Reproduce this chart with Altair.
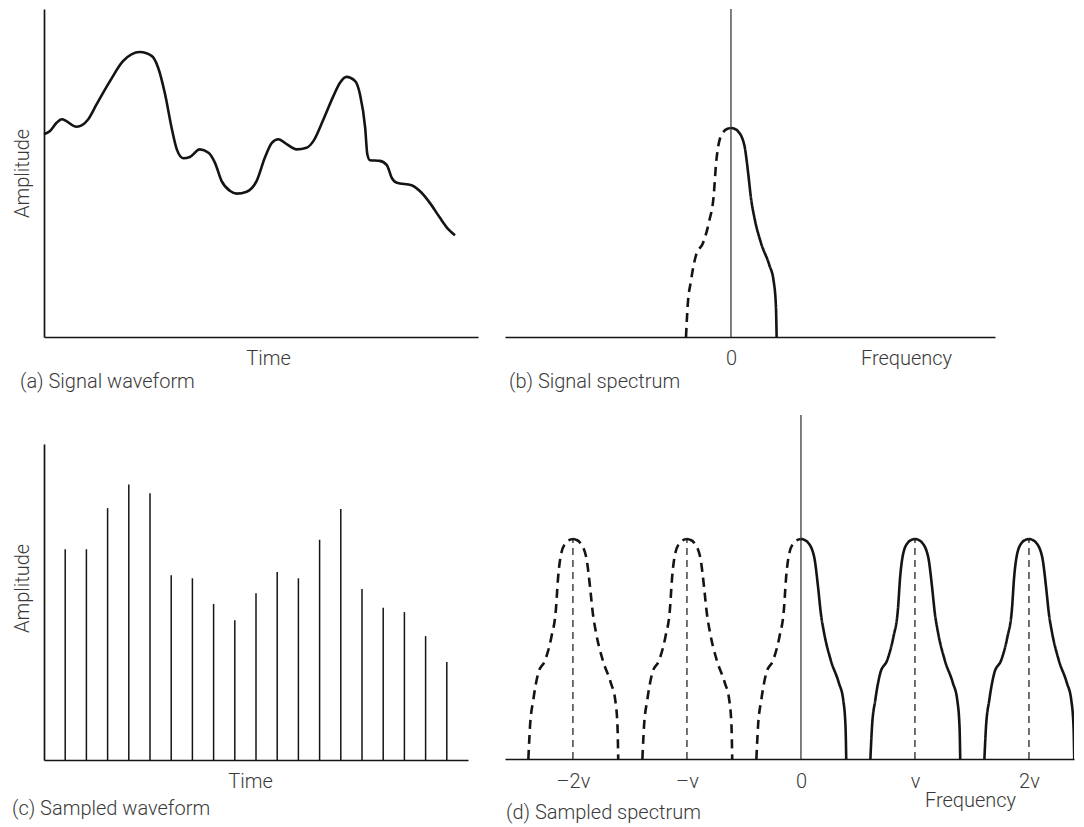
import altair as alt
import pandas as pd

FONT = "Roboto"
TEXT = "#3a3a3a"
INK = "#141414"

# (a) Signal waveform: time 0-100, amplitude 0-100
wave_t = [0, 1.4, 2.9, 4.1, 7.5, 10.2, 12.1, 15.2, 18.2, 22.1, 24.8, 26.3, 27.9, 29.4,
          30.6, 32.1, 33.6, 35.9, 37.9, 39.4, 40.9, 42.9, 44.4, 46.7, 49.0, 50.9, 52.5,
          54.0, 55.9, 58.2, 60.5, 62.1, 64.4, 66.7, 68.2, 69.7, 71.7, 72.8, 74.0, 74.5,
          75.1, 77.4, 79.0, 80.1, 81.3, 84.7, 86.6, 88.9, 91.2, 93.2, 94.7]
wave_a = [61.8, 62.8, 65.3, 66.4, 64.1, 66.4, 70.9, 78.0, 84.1, 86.9, 85.7, 82.1, 74.0, 63.8,
          57.2, 54.5, 54.9, 57.2, 56.2, 53.1, 47.6, 44.5, 43.7, 44.3, 47.6, 54.7, 59.2,
          60.3, 58.8, 57.2, 57.7, 59.8, 66.4, 73.5, 77.5, 79.3, 78.0, 74.0, 63.8, 55.7,
          53.9, 53.7, 52.4, 48.6, 47.0, 46.3, 44.5, 40.9, 36.4, 32.8, 31.0]

# (c) Sampled waveform
sample_t = [5, 10, 15, 20, 25, 30, 35, 40, 45, 50, 55, 60, 65, 70, 75, 80, 85, 90, 95]
sample_a = [66.7, 66.7, 79.7, 87.2, 84.4, 58.5, 57.5, 49.4, 44.2, 52.8, 59.5, 57.5,
            69.7, 79.4, 54.1, 48.2, 46.8, 39.2, 31.0]

# Spectrum lobe shape (offset in units of the sampling frequency nu, height relative to peak)
lobe_left_df = [-0.391, -0.377, -0.348, -0.304, -0.243, -0.189, -0.150, -0.130, -0.102, -0.058, -0.03, 0]
lobe_left_h = [0, 0.145, 0.268, 0.391, 0.45, 0.555, 0.677, 0.827, 0.936, 0.986, 0.996, 1]
lobe_right_df = [0, 0.03, 0.058, 0.116, 0.150, 0.174, 0.203, 0.261, 0.333, 0.371, 0.391, 0.397]
lobe_right_h = [1, 0.996, 0.986, 0.918, 0.782, 0.664, 0.573, 0.45, 0.345, 0.268, 0.145, 0]

# (b) one lobe at 0 ; (d) lobes at multiples of nu
b_centers = [0]
b_left_style = ["dashed"]
b_right_style = ["solid"]
d_centers = [-2, -1, 0, 1, 2]
d_left_style = ["dashed", "dashed", "dashed", "solid", "solid"]
d_right_style = ["dashed", "dashed", "solid", "solid", "solid"]
d_center_marks = [-2, -1, 1, 2]

d_tick_values = [-2, -1, 0, 1, 2]
d_tick_labels = ["\u20132\u03bd", "\u2013\u03bd", "0", "\u03bd", "2\u03bd"]
b_tick_values = [0]
b_tick_labels = ["0"]

B_TOP = 1.569
D_TOP = 1.5636


def lobes(centers, lstyle, rstyle):
    rows = []
    for i, c in enumerate(centers):
        for dfv, hv in zip(lobe_left_df, lobe_left_h):
            rows.append({"f": c + dfv, "h": hv, "seg": f"{i}L", "style": lstyle[i]})
        for dfv, hv in zip(lobe_right_df, lobe_right_h):
            rows.append({"f": c + dfv, "h": hv, "seg": f"{i}R", "style": rstyle[i]})
    return pd.DataFrame(rows)


def label_expr(values, labels):
    expr = "''"
    for v, l in zip(reversed(values), reversed(labels)):
        expr = f"datum.value == {v} ? '{l}' : ({expr})"
    return expr


def caption(text, dx, offset):
    return alt.TitleParams(text, orient="bottom", anchor="start", frame="bounds",
                           dx=dx, offset=offset, fontSize=20, font=FONT,
                           fontWeight=300, color=TEXT)


def freq_axis(values, labels, title_x, title_y, pad):
    return alt.Axis(title="Frequency", titleX=title_x, titleY=title_y, values=values,
                    labels=True, labelExpr=label_expr(values, labels),
                    labelPadding=pad, labelFontSize=20, labelColor=TEXT, labelFont=FONT,
                    labelFontWeight=300, labelFlush=False, labelOverlap=False)


dash_scale = alt.Scale(domain=["solid", "dashed"], range=[[1, 0], [9, 6]])

# ---------- (a)
a = alt.Chart(pd.DataFrame({"t": wave_t, "a": wave_a}),
              title=caption("(a) Signal waveform", 8, 4)).mark_line(
    interpolate="monotone", color=INK, strokeWidth=2.6
).encode(
    x=alt.X("t:Q", scale=alt.Scale(domain=[0, 100], nice=False, zero=False),
            axis=alt.Axis(title="Time", titleX=224, titleY=11)),
    y=alt.Y("a:Q", scale=alt.Scale(domain=[0, 100], nice=False),
            axis=alt.Axis(title="Amplitude", titleX=-16, titleY=164,
                          titleAngle=270, titleBaseline="alphabetic")),
).properties(width=434, height=328)

# ---------- (b)
xs_b = alt.Scale(domain=[-1.965, 2.296], nice=False, zero=False)
ys_b = alt.Scale(domain=[0, B_TOP], nice=False)
ax_b = freq_axis(b_tick_values, b_tick_labels, 401, 11, 11)
b_curve = alt.Chart(lobes(b_centers, b_left_style, b_right_style)).mark_line(
    interpolate="monotone", color=INK, strokeWidth=2.6
).encode(
    x=alt.X("f:Q", scale=xs_b, axis=ax_b),
    y=alt.Y("h:Q", scale=ys_b, axis=None),
    detail="seg:N",
    strokeDash=alt.StrokeDash("style:N", scale=dash_scale, legend=None),
)
b_rule = alt.Chart(pd.DataFrame({"f": [0], "h": [0], "h2": [B_TOP]})).mark_rule(
    color="#2a2a2a", strokeWidth=1.2
).encode(
    x=alt.X("f:Q", scale=xs_b, axis=ax_b),
    y=alt.Y("h:Q", scale=ys_b, axis=None),
    y2="h2:Q",
)
b = alt.layer(b_curve, b_rule, title=caption("(b) Signal spectrum", 4, 4)).properties(
    width=490, height=328)

# ---------- (c)
c = alt.Chart(pd.DataFrame({"t": sample_t, "a": sample_a}),
              title=caption("(c) Sampled waveform", 0, 8)).mark_rule(
    color=INK, strokeWidth=1.5
).encode(
    x=alt.X("t:Q", scale=alt.Scale(domain=[0, 100], nice=False, zero=False),
            axis=alt.Axis(title="Time", titleX=206, titleY=11)),
    y=alt.Y("a:Q", scale=alt.Scale(domain=[0, 100], range=[345, 29], nice=False),
            axis=alt.Axis(title="Amplitude", titleX=-16, titleY=173,
                          titleAngle=270, titleBaseline="alphabetic")),
    y2=alt.datum(0),
).properties(width=424, height=345)

# ---------- (d)
xs_d = alt.Scale(domain=[-2.596, 2.395], nice=False, zero=False)
ys_d = alt.Scale(domain=[0, D_TOP], nice=False)
ax_d = freq_axis(d_tick_values, d_tick_labels, 465, 31, 12)
d_curve = alt.Chart(lobes(d_centers, d_left_style, d_right_style)).mark_line(
    interpolate="monotone", color=INK, strokeWidth=2.6, clip=True
).encode(
    x=alt.X("f:Q", scale=xs_d, axis=ax_d),
    y=alt.Y("h:Q", scale=ys_d, axis=None),
    detail="seg:N",
    strokeDash=alt.StrokeDash("style:N", scale=dash_scale, legend=None),
)
d_marks = alt.Chart(pd.DataFrame({"f": d_center_marks, "h": [0] * len(d_center_marks),
                                  "h2": [1] * len(d_center_marks)})).mark_rule(
    color=INK, strokeWidth=1.2, strokeDash=[7, 5]
).encode(
    x=alt.X("f:Q", scale=xs_d, axis=ax_d),
    y=alt.Y("h:Q", scale=ys_d, axis=None),
    y2="h2:Q",
)
d_rule = alt.Chart(pd.DataFrame({"f": [0], "h": [0], "h2": [D_TOP]})).mark_rule(
    color="#2a2a2a", strokeWidth=1.2
).encode(
    x=alt.X("f:Q", scale=xs_d, axis=ax_d),
    y=alt.Y("h:Q", scale=ys_d, axis=None),
    y2="h2:Q",
)
d = alt.layer(d_curve, d_marks, d_rule, title=caption("(d) Sampled spectrum", 1, -7)).properties(
    width=569, height=344)

top = alt.hconcat(a, b, spacing=25)
bottom = alt.hconcat(c, d, spacing=35)
chart = alt.vconcat(top, bottom, spacing=20).properties(
    padding={"left": 3, "top": -1, "right": 0, "bottom": 0}
).configure_view(stroke="transparent").configure_axis(
    domain=True, domainColor=INK, domainWidth=1.7, ticks=False, tickSize=0,
    labels=False, grid=False, titleFont=FONT, titleFontSize=20, titleFontWeight=300,
    titleColor=TEXT,
).configure_title(font=FONT, fontSize=20, fontWeight=300, color=TEXT)

chart.save("out.html", embed_options={"renderer": "svg", "actions": False})
